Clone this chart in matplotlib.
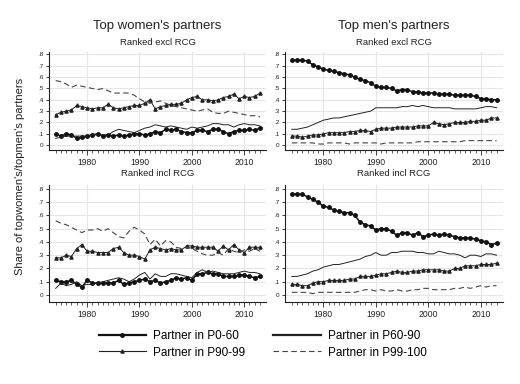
import numpy as np
import matplotlib
matplotlib.use("Agg")
import matplotlib.pyplot as plt
from matplotlib.ticker import FixedLocator

plt.rcParams['font.family'] = ['Liberation Sans', 'DejaVu Sans']

years = np.arange(1974, 2014)

# top women's partners, ranked excl RCG
w_excl_p0_60 = [.10, .08, .10, .09, .06, .07, .08, .09, .10, .08, .09, .08, .09, .08, .09, .10, .10, .09, .10, .12,
                .11, .14, .13, .14, .12, .11, .11, .13, .13, .12, .14, .14, .12, .10, .12, .13, .13, .14, .13, .15]
w_excl_p60_90 = [.06, .07, .08, .08, .08, .08, .08, .09, .09, .09, .09, .12, .14, .13, .12, .11, .13, .15, .16, .18,
                 .17, .16, .17, .16, .15, .14, .16, .15, .16, .17, .19, .19, .18, .18, .16, .18, .19, .18, .18, .17]
w_excl_p90_99 = [.27, .29, .30, .31, .35, .34, .33, .32, .33, .33, .36, .33, .32, .33, .34, .35, .35, .37, .40, .32,
                 .34, .35, .36, .36, .37, .40, .42, .43, .40, .40, .39, .40, .42, .43, .45, .41, .43, .42, .43, .46]
w_excl_p99_100 = [.57, .56, .54, .51, .53, .52, .51, .50, .49, .50, .48, .46, .46, .46, .46, .44, .41, .38, .37, .38,
                  .39, .37, .35, .34, .33, .32, .31, .30, .31, .32, .29, .28, .28, .30, .29, .28, .27, .26, .26, .25]

# top men's partners, ranked excl RCG
m_excl_p0_60 = [.75, .75, .75, .74, .71, .69, .67, .66, .65, .64, .63, .62, .60, .58, .57, .55, .52, .51, .51, .50,
                .48, .49, .49, .47, .47, .46, .46, .46, .45, .45, .45, .44, .44, .44, .44, .43, .41, .41, .40, .40]
m_excl_p60_90 = [.14, .14, .15, .16, .18, .20, .22, .23, .24, .24, .25, .26, .27, .28, .29, .30, .33, .33, .33, .33,
                 .33, .34, .34, .35, .34, .35, .34, .33, .33, .33, .33, .32, .32, .32, .32, .32, .33, .34, .34, .33]
m_excl_p90_99 = [.08, .08, .07, .08, .09, .09, .10, .11, .11, .11, .11, .12, .12, .13, .13, .12, .14, .15, .15, .15,
                 .16, .16, .16, .16, .17, .17, .17, .20, .19, .18, .19, .20, .20, .20, .21, .21, .22, .22, .24, .24]
m_excl_p99_100 = [.02, .02, .02, .02, .02, .01, .01, .02, .02, .02, .02, .01, .02, .02, .02, .02, .02, .01, .02, .02,
                  .02, .02, .02, .02, .03, .03, .03, .03, .03, .03, .03, .03, .03, .04, .04, .04, .04, .04, .04, .04]

# top women's partners, ranked incl RCG
w_incl_p0_60 = [.11, .10, .10, .11, .08, .06, .11, .09, .09, .09, .09, .09, .11, .08, .09, .10, .11, .12, .10, .11,
                .09, .10, .11, .13, .12, .13, .11, .16, .16, .17, .16, .16, .14, .14, .14, .15, .15, .14, .13, .14]
w_incl_p60_90 = [.05, .09, .07, .08, .10, .07, .08, .08, .09, .10, .11, .12, .13, .12, .10, .12, .15, .17, .12, .16,
                 .14, .14, .16, .16, .15, .14, .13, .17, .19, .17, .18, .17, .16, .16, .16, .17, .18, .17, .17, .16]
w_incl_p90_99 = [.28, .28, .30, .29, .35, .38, .33, .33, .32, .32, .32, .35, .36, .32, .30, .30, .29, .27, .34, .36,
                 .35, .34, .35, .34, .34, .37, .37, .36, .36, .36, .36, .33, .37, .34, .38, .34, .32, .36, .36, .36]
w_incl_p99_100 = [.56, .54, .53, .51, .49, .47, .49, .49, .50, .48, .50, .47, .44, .43, .48, .51, .49, .46, .38, .42,
                  .37, .41, .40, .36, .35, .36, .35, .33, .31, .30, .30, .32, .30, .35, .33, .32, .34, .33, .35, .33]

# top men's partners, ranked incl RCG
m_incl_p0_60 = [.76, .76, .76, .74, .72, .70, .67, .66, .64, .63, .62, .62, .60, .55, .53, .52, .49, .50, .50, .48,
                .45, .47, .47, .45, .47, .44, .45, .46, .45, .46, .45, .44, .43, .43, .43, .42, .41, .40, .38, .39]
m_incl_p60_90 = [.14, .14, .15, .16, .18, .19, .21, .22, .23, .23, .24, .25, .26, .27, .29, .30, .32, .30, .30, .32,
                 .32, .33, .33, .33, .32, .32, .31, .31, .33, .32, .31, .31, .30, .28, .30, .30, .29, .31, .31, .30]
m_incl_p90_99 = [.08, .08, .07, .07, .09, .10, .10, .11, .11, .11, .11, .12, .12, .14, .14, .14, .15, .16, .16, .17,
                 .18, .17, .17, .18, .18, .19, .19, .19, .19, .18, .18, .20, .20, .22, .22, .22, .23, .23, .23, .24]
m_incl_p99_100 = [.02, .02, .02, .02, .01, .02, .02, .02, .02, .02, .02, .02, .02, .03, .04, .04, .03, .04, .03, .03,
                  .04, .03, .03, .04, .04, .05, .05, .04, .04, .04, .04, .05, .05, .06, .05, .06, .07, .06, .07, .07]

yticks = [0, .1, .2, .3, .4, .5, .6, .7, .8]
ytick_labels = ['0', '.1', '.2', '.3', '.4', '.5', '.6', '.7', '.8']
xticks = [1980, 1990, 2000, 2010]

fig = plt.figure(figsize=(5.2, 3.84), dpi=100)

panels = [
    ([0.094, 0.609, 0.418, 0.255], (w_excl_p0_60, w_excl_p60_90, w_excl_p90_99, w_excl_p99_100), (-0.044, 0.82)),
    ([0.548, 0.609, 0.419, 0.255], (m_excl_p0_60, m_excl_p60_90, m_excl_p90_99, m_excl_p99_100), (-0.044, 0.82)),
    ([0.094, 0.2135, 0.418, 0.305], (w_incl_p0_60, w_incl_p60_90, w_incl_p90_99, w_incl_p99_100), (-0.053, 0.83)),
    ([0.548, 0.2135, 0.419, 0.305], (m_incl_p0_60, m_incl_p60_90, m_incl_p90_99, m_incl_p99_100), (-0.053, 0.83)),
]

handles = None
for rect, series, ylim in panels:
    ax = fig.add_axes(rect)
    p0, p60, p90, p99 = series
    h1, = ax.plot(years, p0, color='#111111', lw=1.1, marker='o', ms=2.5, label='Partner in P0-60')
    h2, = ax.plot(years, p60, color='#222222', lw=0.7, label='Partner in P60-90')
    h3, = ax.plot(years, p90, color='#222222', lw=0.7, marker='^', ms=2.3, label='Partner in P90-99')
    h4, = ax.plot(years, p99, color='#444444', lw=0.8, dashes=(5, 3), label='Partner in P99-100')
    handles = [h1, h2, h3, h4]

    ax.set_xlim(1972.7, 2014.2)
    ax.set_ylim(*ylim)
    ax.set_yticks(yticks)
    ax.set_yticklabels(ytick_labels)
    ax.set_xticks(xticks)
    ax.xaxis.set_minor_locator(FixedLocator(years))
    ax.grid(True, color='#e6e6e6', lw=0.8)
    ax.set_axisbelow(True)
    for s in ['top', 'right']:
        ax.spines[s].set_visible(False)
    for s in ['left', 'bottom']:
        ax.spines[s].set_color('#222222')
        ax.spines[s].set_linewidth(0.8)
    ax.tick_params(axis='y', labelsize=4.6, length=2.5, width=0.6, pad=1.5, colors='#222222')
    ax.tick_params(axis='x', which='major', labelsize=6.2, length=3.5, width=0.6, pad=2, colors='#222222')
    ax.tick_params(axis='x', which='minor', length=2, width=0.5, colors='#222222')

# titles
fig.text(0.303, 0.932, "Top women's partners", ha='center', va='center', fontsize=9.5, color='#222222')
fig.text(0.758, 0.932, "Top men's partners", ha='center', va='center', fontsize=9.5, color='#222222')
for xc in (0.303, 0.758):
    fig.text(xc, 0.890, "Ranked excl RCG", ha='center', va='center', fontsize=6.8, color='#222222')
    fig.text(xc, 0.547, "Ranked incl RCG", ha='center', va='center', fontsize=6.8, color='#222222')

fig.text(0.038, 0.54, "Share of topwomen's/topmen's partners", rotation=90,
         ha='center', va='center', fontsize=8, color='#222222')

h1, h2, h3, h4 = handles
order = [h1, h3, h2, h4]
leg = fig.legend(order, [h.get_label() for h in order],
                 ncol=2, loc='center', bbox_to_anchor=(0.505, 0.103), frameon=False,
                 fontsize=8.5, handlelength=4.0, handletextpad=0.6, columnspacing=2.4,
                 labelspacing=0.35, numpoints=1)
# legend lines: P0-60 and P60-90 drawn heavier
for line, lw in zip(leg.get_lines(), [1.6, 0.8, 1.6, 0.8]):
    line.set_linewidth(lw)

fig.savefig("out.png", dpi=100)
